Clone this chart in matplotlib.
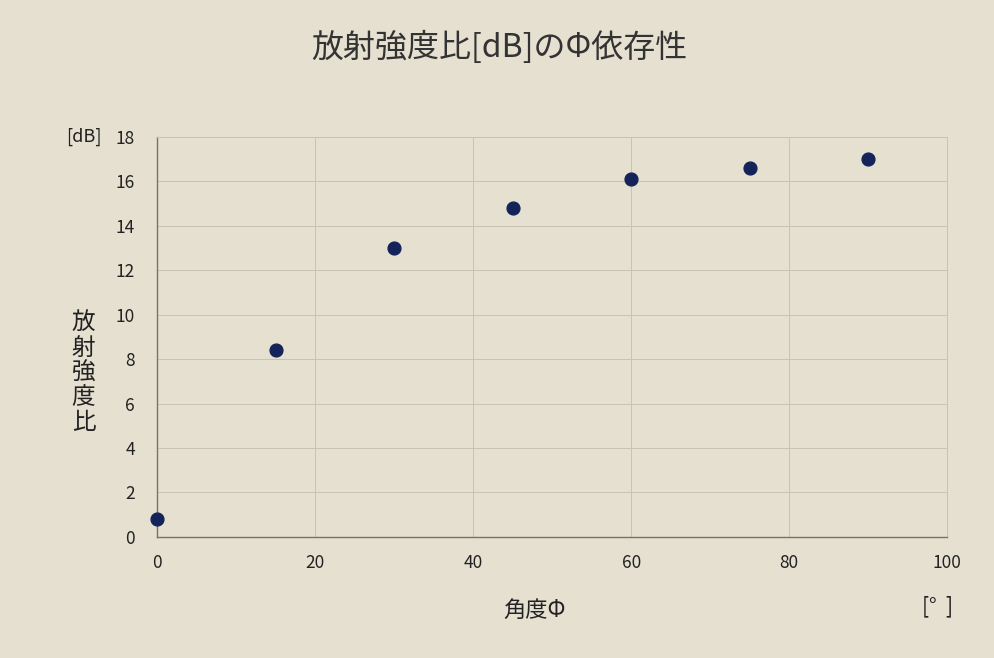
import matplotlib
matplotlib.use('Agg')
import matplotlib.pyplot as plt

plt.rcParams['font.family'] = ['Noto Sans CJK JP', 'DejaVu Sans']

# angle [deg] vs radiation intensity ratio [dB]
angle = [0, 15, 30, 45, 60, 75, 90]
ratio_db = [0.8, 8.4, 13.0, 14.8, 16.1, 16.6, 17.0]

x_ticks = [0, 20, 40, 60, 80, 100]
y_ticks = [0, 2, 4, 6, 8, 10, 12, 14, 16, 18]

bg = '#e6e0d1'
fig = plt.figure(figsize=(9.95, 6.58), dpi=100, facecolor=bg)
ax = fig.add_axes([0.158, 0.184, 0.794, 0.608], facecolor=bg)

ax.scatter(angle, ratio_db, s=85, color='#14245a', zorder=3, clip_on=False)

ax.set_xlim(0, 100)
ax.set_ylim(0, 18)
ax.set_xticks(x_ticks)
ax.set_yticks(y_ticks)
ax.tick_params(length=0, labelsize=12.5, colors='#222222', pad=12)
ax.tick_params(axis='y', pad=16)
ax.grid(True, color='#c9c3b6', lw=0.7)
for side in ['top', 'right']:
    ax.spines[side].set_color('#c9c3b6')
    ax.spines[side].set_linewidth(0.7)
for side in ['left', 'bottom']:
    ax.spines[side].set_color('#77736b')
    ax.spines[side].set_linewidth(1.0)

fig.text(0.502, 0.928, '放射強度比[dB]のΦ依存性', ha='center', va='center',
         fontsize=23, color='#333333')
fig.text(0.084, 0.792, '[dB]', ha='center', va='center', fontsize=13, color='#222222')
fig.text(0.084, 0.433, '放\n射\n強\n度\n比', ha='center', va='center',
         fontsize=17, color='#222222', linespacing=1.1)
fig.text(0.537, 0.073, '角度Φ', ha='center', va='center', fontsize=16, color='#222222')
fig.text(0.942, 0.078, '[°  ]', ha='center', va='center', fontsize=15, color='#222222')

fig.savefig('out.png', dpi=100, facecolor=bg)
